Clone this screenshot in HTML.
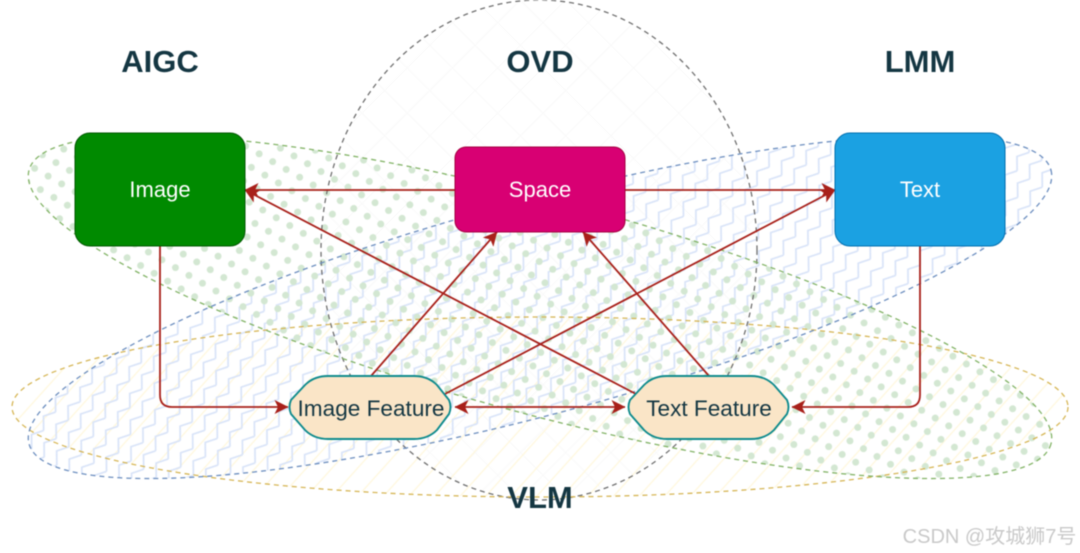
<!DOCTYPE html>
<html>
<head>
<meta charset="utf-8">
<style>
html,body{margin:0;padding:0;background:#fff;width:1080px;height:553px;overflow:hidden}
svg{display:block;filter:blur(0.4px)}
text{font-family:"Liberation Sans","Noto Sans CJK SC",sans-serif;text-anchor:middle}
.h{font-size:31px;font-weight:bold;fill:#143642}
.n{font-size:22px;fill:#fff}
.f{font-size:22.6px;fill:#143642}
.c{fill:none;stroke:#A8201A;stroke-width:1.8}
</style>
</head>
<body>
<svg width="1080" height="553" viewBox="0 0 1080 553" xmlns="http://www.w3.org/2000/svg">
<defs>
<pattern id="dots" width="15.6" height="15.6" patternUnits="userSpaceOnUse" patternTransform="translate(540 307) rotate(15)">
<circle cx="7.8" cy="7.8" r="3.5" fill="#d3e7d2"/>
</pattern>
<pattern id="zig" width="22" height="15" patternUnits="userSpaceOnUse" patternTransform="translate(540 307) rotate(-42)">
<path d="M0 11 L12 3 L22 11" fill="none" stroke="#d8e3f8" stroke-width="1.7"/>
</pattern>
<pattern id="hatch" width="19" height="19" patternUnits="userSpaceOnUse" patternTransform="rotate(-48)">
<line x1="0" y1="9" x2="19" y2="9" stroke="#fff7dc" stroke-width="1.2"/>
</pattern>
<pattern id="cross" width="32" height="32" patternUnits="userSpaceOnUse" patternTransform="rotate(45)">
<path d="M0 16H32M16 0V32" fill="none" stroke="#f9f9f9" stroke-width="1"/>
</pattern>
<marker id="ah" viewBox="0 0 14 14" markerWidth="14" markerHeight="14" refX="13.5" refY="7" orient="auto-start-reverse" markerUnits="userSpaceOnUse">
<path d="M0 0 L14 7 L0 14 L3.5 7 Z" fill="#A8201A"/>
</marker>
</defs>

<ellipse cx="539" cy="250" rx="218" ry="250" fill="url(#cross)"/>
<ellipse cx="540" cy="407" rx="528" ry="90" fill="url(#hatch)"/>
<ellipse cx="540" cy="307" rx="529" ry="107" transform="rotate(-15 540 307)" fill="url(#zig)"/>
<ellipse cx="540" cy="307" rx="529" ry="107" transform="rotate(15 540 307)" fill="url(#dots)"/>

<ellipse cx="539" cy="250" rx="218" ry="250" fill="none" stroke="#6f6f6f" stroke-width="1.3" stroke-dasharray="5 4"/>
<ellipse cx="540" cy="407" rx="528" ry="90" fill="none" stroke="#d6b656" stroke-width="1.3" stroke-dasharray="5 4"/>
<ellipse cx="540" cy="307" rx="529" ry="107" transform="rotate(-15 540 307)" fill="none" stroke="#6c8ebf" stroke-width="1.3" stroke-dasharray="5 4"/>
<ellipse cx="540" cy="307" rx="529" ry="107" transform="rotate(15 540 307)" fill="none" stroke="#82b366" stroke-width="1.3" stroke-dasharray="5 4"/>

<text class="h" x="160" y="72">AIGC</text>
<text class="h" x="540" y="72">OVD</text>
<text class="h" x="920" y="72">LMM</text>
<text class="h" x="540" y="508">VLM</text>

<line class="c" x1="455" y1="190" x2="245" y2="190" marker-end="url(#ah)"/>
<line class="c" x1="625" y1="190" x2="835" y2="190" marker-end="url(#ah)"/>
<line class="c" x1="371" y1="376" x2="497" y2="232" marker-end="url(#ah)"/>
<line class="c" x1="709" y1="376" x2="583" y2="232" marker-end="url(#ah)"/>
<line class="c" x1="445" y1="394" x2="835" y2="190" marker-end="url(#ah)"/>
<line class="c" x1="636" y1="394" x2="245" y2="190" marker-end="url(#ah)"/>
<path class="c" d="M160 246V395Q160 407 172 407H288" marker-end="url(#ah)"/>
<path class="c" d="M920 246V395Q920 407 908 407H792" marker-end="url(#ah)"/>
<line class="c" x1="455" y1="407" x2="625" y2="407" marker-start="url(#ah)" marker-end="url(#ah)"/>

<rect x="75" y="133" width="170" height="113" rx="15" fill="#008a00" stroke="#005700"/>
<rect x="455" y="147" width="170" height="85" rx="11" fill="#d80073" stroke="#a50040"/>
<rect x="835" y="133" width="170" height="113" rx="15" fill="#1ba1e2" stroke="#006eaf"/>

<path d="M291 400 L305 385 Q314 376 328 376 H414 Q428 376 437 385 L449 400 Q452 407 449 414 L437 430 Q428 439 414 439 H328 Q314 439 305 430 L291 414 Q288 407 291 400 Z" fill="#FAE5C7" stroke="#0F8B8D" stroke-width="1.9"/>
<path d="M630 400 L644 385 Q653 376 667 376 H751 Q765 376 774 385 L787 400 Q790 407 787 414 L774 430 Q765 439 751 439 H667 Q653 439 644 430 L630 414 Q627 407 630 400 Z" fill="#FAE5C7" stroke="#0F8B8D" stroke-width="1.9"/>

<text class="n" x="160" y="197">Image</text>
<text class="n" x="540" y="197">Space</text>
<text class="n" x="920" y="197">Text</text>
<text class="f" x="371" y="416">Image Feature</text>
<text class="f" x="709" y="416">Text Feature</text>

<text x="989.500" y="543" style="font-size:20px;fill:#c9c9c9">CSDN @攻城狮7号</text>
</svg>
</body>
</html>
